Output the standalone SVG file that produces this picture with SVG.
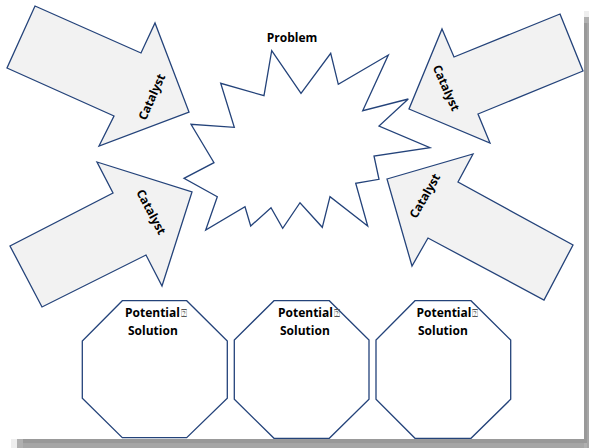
<svg xmlns="http://www.w3.org/2000/svg" width="589" height="448" viewBox="0 0 589 448">
<style>
.shape{stroke:#24437a;stroke-width:1.3;stroke-linejoin:miter}
.arrow{fill:#f2f2f2}
.white{fill:#ffffff}
.lbl{font-family:"Open Sans","Liberation Sans",Arial,sans-serif;font-weight:bold;font-size:12px;fill:#000}
.box{font-family:"DejaVu Sans","Liberation Sans",sans-serif;font-weight:normal;font-size:10px;fill:#555}
</style>
<rect x="0" y="0" width="589" height="448" fill="#ffffff"/>
<g id="page-shadow">
<rect x="11" y="439" width="578" height="9" fill="#eeeeee"/>
<rect x="17" y="439" width="572" height="9" fill="#b0b0b0"/>
<rect x="23" y="439" width="566" height="4.5" fill="#999999"/>
<rect x="23" y="443.5" width="566" height="4.5" fill="#a6a6a6"/>
<rect x="584" y="11" width="5" height="437" fill="#eeeeee"/>
<rect x="584" y="17" width="5" height="431" fill="#b0b0b0"/>
<rect x="584" y="23" width="3" height="420" fill="#999999"/>
<rect x="587" y="23" width="2" height="425" fill="#a6a6a6"/>
</g>
<g id="connectors"/>
<g id="catalyst-top-left">
<polygon class="shape arrow" points="35,6 141,53 155,23 189,112 99,146 114,116 7,68"/>
<text class="lbl" text-anchor="middle" transform="translate(152,97) rotate(-66)" y="4">Catalyst</text>
</g>
<g id="catalyst-top-right">
<polygon class="shape arrow" points="560,14 583,71 478,114 490,143 409,109 442,29 454,57"/>
<text class="lbl" text-anchor="middle" transform="translate(446,88) rotate(66)" y="4">Catalyst</text>
</g>
<g id="catalyst-bottom-left">
<polygon class="shape arrow" points="97,162 192,192 162,286 146,255 42,307 10,246 113,193"/>
<text class="lbl" text-anchor="middle" transform="translate(151,212) rotate(62)" y="4">Catalyst</text>
</g>
<g id="catalyst-bottom-right">
<polygon class="shape arrow" points="387,179 473,154 458,182 573,245 544,300 428,238 412,266"/>
<text class="lbl" text-anchor="middle" transform="translate(425,196) rotate(-60)" y="4">Catalyst</text>
</g>
<g id="problem">
<polygon class="shape white" points="271.7,50.7 301,93.3 330.7,53.3 338.3,84.3 388.3,55 362.7,110.7 408.3,99 379,126 430,147.7 374,156 379,179.3 355.7,183.3 367.7,226 330,196.7 322.3,227.3 300,202.7 282.7,228.3 271,207.7 250.7,226 245,206.7 205.7,230 217.3,196.7 184,178.3 214,162.7 191,124.3 234.3,127.3 220.7,83.3 264,95.7"/>
<text class="lbl" x="292" y="42" text-anchor="middle">Problem</text>
</g>
<g id="solution-1">
<polygon class="shape white" points="122.3,300.7 186.7,300.7 227.3,341 227.3,398.3 186.7,437.7 122.3,437.7 82.3,398.3 82.3,341"/>
<text class="lbl" x="125" y="317">Potential<tspan class="box" dx="1">⍰</tspan></text>
<text class="lbl" x="128" y="335">Solution</text>
</g>
<g id="solution-2">
<polygon class="shape white" points="274,300.7 329.3,300.7 369,340 369,399.3 329.3,438.3 274,438.3 234.3,399.3 234.3,340"/>
<text class="lbl" x="278" y="317">Potential<tspan class="box" dx="1">⍰</tspan></text>
<text class="lbl" x="280" y="335">Solution</text>
</g>
<g id="solution-3">
<polygon class="shape white" points="415,300.7 471,300.7 510.7,340 510.7,399.3 471,438.3 415,438.3 376,399.3 376,340"/>
<text class="lbl" x="416.5" y="317">Potential<tspan class="box" dx="1">⍰</tspan></text>
<text class="lbl" x="418" y="335">Solution</text>
</g>
</svg>
